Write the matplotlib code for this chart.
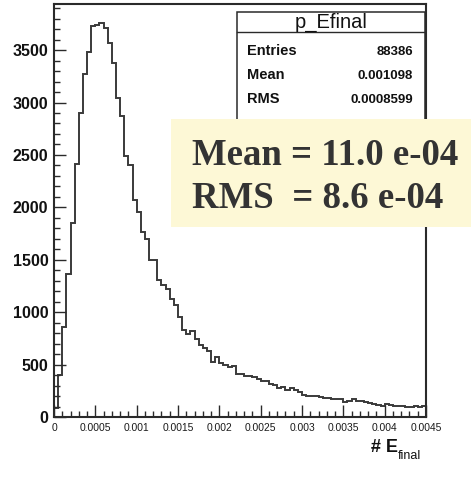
import numpy as np
import matplotlib
matplotlib.use('Agg')
import matplotlib.pyplot as plt
from matplotlib.patches import Rectangle
from matplotlib.lines import Line2D
from matplotlib.ticker import MultipleLocator, FuncFormatter

# histogram p_Efinal, 90 bins from 0 to 0.0045
x_lo, x_hi, n_bins = 0.0, 0.0045, 90
counts = [85, 400, 858, 1361, 1851, 2418, 2901, 3271, 3484, 3729,
          3740, 3760, 3707, 3570, 3373, 3045, 2873, 2488, 2408, 2067,
          1956, 1765, 1702, 1495, 1495, 1304, 1256, 1224, 1129, 1065,
          953, 826, 795, 820, 747, 690, 655, 630, 520, 571,
          514, 495, 480, 485, 412, 412, 390, 390, 380, 365,
          339, 345, 317, 301, 275, 286, 262, 275, 253, 237,
          212, 199, 205, 196, 189, 180, 183, 173, 167, 167,
          141, 157, 167, 157, 148, 141, 135, 125, 116, 103,
          125, 116, 109, 109, 103, 93, 93, 103, 93, 103]
y_max = 3940

stats_title = 'p_Efinal'
stats_names = ['Entries', 'Mean', 'RMS']
stats_values = ['88386', '0.001098', '0.0008599']
note_lines = ['Mean = 11.0 e-04', 'RMS  = 8.6 e-04']

W, H = 471, 495
fig = plt.figure(figsize=(W / 100, H / 100), dpi=100)

def fx(p):
    return p / W

def fy(p):
    return 1 - p / H

ax = fig.add_axes([fx(54), fy(417), fx(426) - fx(54), fy(4) - fy(417)])
edges = np.linspace(x_lo, x_hi, n_bins + 1)
ax.stairs(counts, edges, color='#3a3a3a', lw=1.4)
ax.set_xlim(x_lo, x_hi)
ax.set_ylim(0, y_max)

for s in ax.spines.values():
    s.set_linewidth(1.5)
    s.set_color('#2a2a2a')

ax.xaxis.set_major_locator(MultipleLocator(0.0005))
ax.xaxis.set_minor_locator(MultipleLocator(0.0001))
ax.yaxis.set_major_locator(MultipleLocator(500))
ax.yaxis.set_minor_locator(MultipleLocator(100))
ax.xaxis.set_major_formatter(FuncFormatter(lambda v, p: '%g' % round(v, 6)))
ax.tick_params(which='both', direction='in', top=False, right=False, color='#2a2a2a')
ax.tick_params(which='major', length=8.5, width=1.0)
ax.tick_params(which='minor', length=4.3, width=1.0)
ax.tick_params(axis='x', which='major', labelsize=7.4, pad=4, labelcolor='#1a1a1a')
ax.tick_params(axis='y', which='major', pad=4)
for lab in ax.get_xticklabels():
    lab.set_fontfamily('Liberation Sans')
for lab in ax.get_yticklabels():
    lab.set_fontfamily('Liberation Sans')
    lab.set_fontsize(11.5)
    lab.set_fontweight('bold')
    lab.set_color('#111111')

# x axis title
fig.text(fx(371), fy(452), '# E', fontsize=13, fontweight='bold',
         family='Liberation Sans', color='#111111', va='baseline')
fig.text(fx(398), fy(459), 'final', fontsize=9, family='Liberation Sans',
         color='#111111', va='baseline')

# stats box
box = Rectangle((fx(237), fy(125)), fx(425) - fx(237), fy(11.7) - fy(125),
                transform=fig.transFigure, facecolor='white', edgecolor='#2a2a2a',
                lw=1.1, zorder=5)
fig.add_artist(box)
fig.add_artist(Line2D([fx(237), fx(425)], [fy(31.5), fy(31.5)],
                      transform=fig.transFigure, color='#2a2a2a', lw=1.0, zorder=6))
fig.text(fx(331), fy(27.5), stats_title, fontsize=14.5, family='Liberation Sans',
         ha='center', va='baseline', color='#111111', zorder=7)
for i, (name, val) in enumerate(zip(stats_names, stats_values)):
    yb = fy(55 + i * 24.2)
    fig.text(fx(247), yb, name, fontsize=10.5, fontweight='bold',
             family='Liberation Sans', va='baseline', color='#111111', zorder=7)
    fig.text(fx(413), yb, val, fontsize=9.5, fontweight='bold',
             family='Liberation Sans', ha='right', va='baseline', color='#111111', zorder=7)

# yellow note box
note = Rectangle((fx(171), fy(227.3)), fx(471) - fx(171), fy(119.3) - fy(227.3),
                 transform=fig.transFigure, facecolor='#fdf8d6', edgecolor='none', zorder=8)
fig.add_artist(note)
for i, line in enumerate(note_lines):
    fig.text(fx(191.5), fy(165 + i * 43.3), line, fontsize=26.5, fontweight='bold',
             family='Liberation Serif', color='#333333', va='baseline', zorder=9)

fig.savefig('out.png', dpi=100)
